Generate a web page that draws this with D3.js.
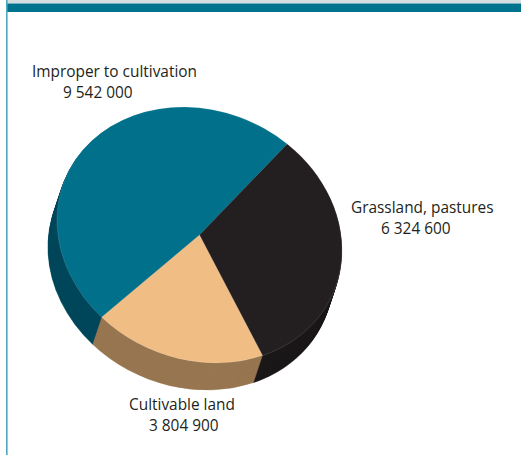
<!DOCTYPE html>
<html>
<head>
<meta charset="utf-8">
<script src="https://cdn.jsdelivr.net/npm/d3@7"></script>
<style>
  html, body { margin: 0; padding: 0; background: #ffffff; }
  svg { display: block; }
  text { font-family: "Open Sans", "Noto Sans", sans-serif; fill: #231f20; }
</style>
</head>
<body>
<script>
// ---- data ----
const categories = ["Improper to cultivation", "Grassland, pastures", "Cultivable land"];
const values = [9542000, 6324600, 3804900];
const valueLabels = ["9 542 000", "6 324 600", "3 804 900"];
const topColors = ["#00708b", "#231f20", "#f0be84"];
const sideColors = ["#00475b", "#1b1819", "#977650"];

// ---- layout ----
const W = 521, H = 455;
const cx = 199.5, cy = 235;
const R = 100;
const M = [1.425, 0.148, 0, 1.271]; // linear map circle -> ellipse (a, b, c, d)
const depth = 27, shiftX = -9;
const boundaryAngle = 38 * Math.PI / 180; // where "Improper" ends and "Grassland" begins

const svg = d3.select("body").append("svg").attr("width", W).attr("height", H);

// frame
svg.append("rect").attr("x", 7).attr("y", 0).attr("width", W - 7).attr("height", 3.5).attr("fill", "#d4dee1");
svg.append("rect").attr("x", 7).attr("y", 3.5).attr("width", W - 7).attr("height", 8.5).attr("fill", "#00728e");
svg.append("rect").attr("x", 6).attr("y", 0).attr("width", 1.6).attr("height", H).attr("fill", "#4fa6bd");

const data = categories.map((c, i) => ({ name: c, value: values[i], label: valueLabels[i], i }));
const total = d3.sum(values);
const startAngle = boundaryAngle - 2 * Math.PI * values[0] / total;
const pie = d3.pie().sort(null).value(d => d.value)
  .startAngle(startAngle).endAngle(startAngle + 2 * Math.PI);
const arcs = pie(data);
const arc = d3.arc().innerRadius(0).outerRadius(R);

const mat = (tx, ty) => `matrix(${M[0]},${M[1]},${M[2]},${M[3]},${tx},${ty})`;

// side layers (stacked copies of the disc)
const layers = d3.range(depth, 0, -1);
const sideG = svg.append("g");
layers.forEach(k => {
  sideG.append("g")
    .attr("transform", mat(cx + shiftX * k / depth, cy + k))
    .selectAll("path").data(arcs).join("path")
    .attr("d", arc)
    .attr("fill", d => sideColors[d.data.i])
    .attr("stroke", d => sideColors[d.data.i])
    .attr("stroke-width", 0.6)
    .attr("vector-effect", "non-scaling-stroke");
});

// top face
svg.append("g")
  .attr("transform", mat(cx, cy))
  .selectAll("path").data(arcs).join("path")
  .attr("d", arc)
  .attr("fill", d => topColors[d.data.i])
  .attr("stroke", "rgba(255,255,255,0.18)")
  .attr("stroke-width", 0.7)
  .attr("vector-effect", "non-scaling-stroke");

// labels
const labelPos = [
  { x1: 32, y1: 77, x2: 63, y2: 97.5 },
  { x1: 351, y1: 213, x2: 381, y2: 234 },
  { x1: 129, y1: 409.5, x2: 149, y2: 430.5 }
];
const lg = svg.append("g");
data.forEach((d, i) => {
  const p = labelPos[i];
  lg.append("text").attr("x", p.x1).attr("y", p.y1).attr("font-size", 15.4).text(d.name);
  lg.append("text").attr("x", p.x2).attr("y", p.y2).attr("font-size", 15.4).text(d.label);
});
</script>
</body>
</html>
